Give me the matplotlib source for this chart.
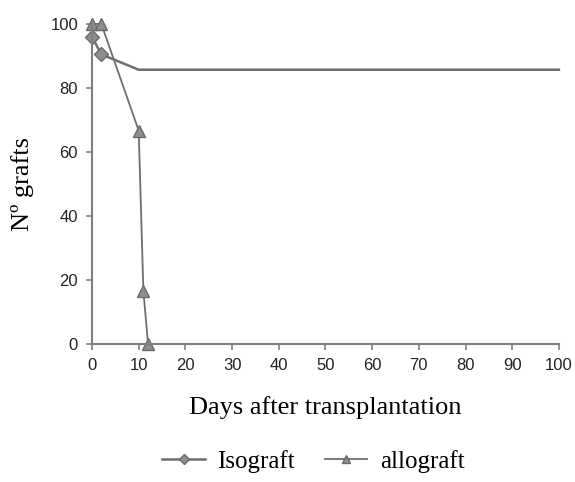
import matplotlib
matplotlib.use("Agg")
import matplotlib.pyplot as plt

# survival data
iso_days = [0, 2, 10, 100]
iso_pct = [96, 90.5, 85.7, 85.7]
allo_days = [0, 2, 10, 11, 12]
allo_pct = [100, 100, 66.7, 16.7, 0]
x_ticks = list(range(0, 101, 10))
y_ticks = list(range(0, 101, 20))

grey = "#6e6e6e"
axis_grey = "#7f7f7f"

fig = plt.figure(figsize=(5.75, 4.82), dpi=100)
ax = fig.add_axes([0.16, 0.2863, 0.812, 0.664])

ax.plot(iso_days, iso_pct, color=grey, lw=1.8, marker="D", ms=7,
        mfc="#8e8e8e", mec="#6a6a6a", markevery=[0, 1], label="Isograft", clip_on=False)
ax.plot(allo_days, allo_pct, color=grey, lw=1.3, marker="^", ms=8,
        mfc="#8e8e8e", mec="#6a6a6a", label="allograft", clip_on=False)

ax.set_xlim(0, 100)
ax.set_ylim(0, 100)
ax.set_xticks(x_ticks)
ax.set_yticks(y_ticks)
for s in ["top", "right"]:
    ax.spines[s].set_visible(False)
for s in ["left", "bottom"]:
    ax.spines[s].set_color(axis_grey)
    ax.spines[s].set_linewidth(1.5)
ax.tick_params(colors=axis_grey, width=1.2, length=4, labelsize=12, labelcolor="#222222", pad=6)
for lab in ax.get_xticklabels() + ax.get_yticklabels():
    lab.set_family("Liberation Sans")

ax.set_xlabel("Days after transplantation", family="Liberation Serif", fontsize=19, labelpad=17)
ax.set_ylabel("Nº grafts", family="Liberation Serif", fontsize=19, labelpad=12)

fig.legend(loc="center", bbox_to_anchor=(0.545, 0.042), ncol=2, frameon=False,
           prop={"family": "Liberation Serif", "size": 18}, handlelength=1.7,
           handletextpad=0.5, columnspacing=1.2, markerscale=0.8)

fig.savefig("out.png", dpi=100)
